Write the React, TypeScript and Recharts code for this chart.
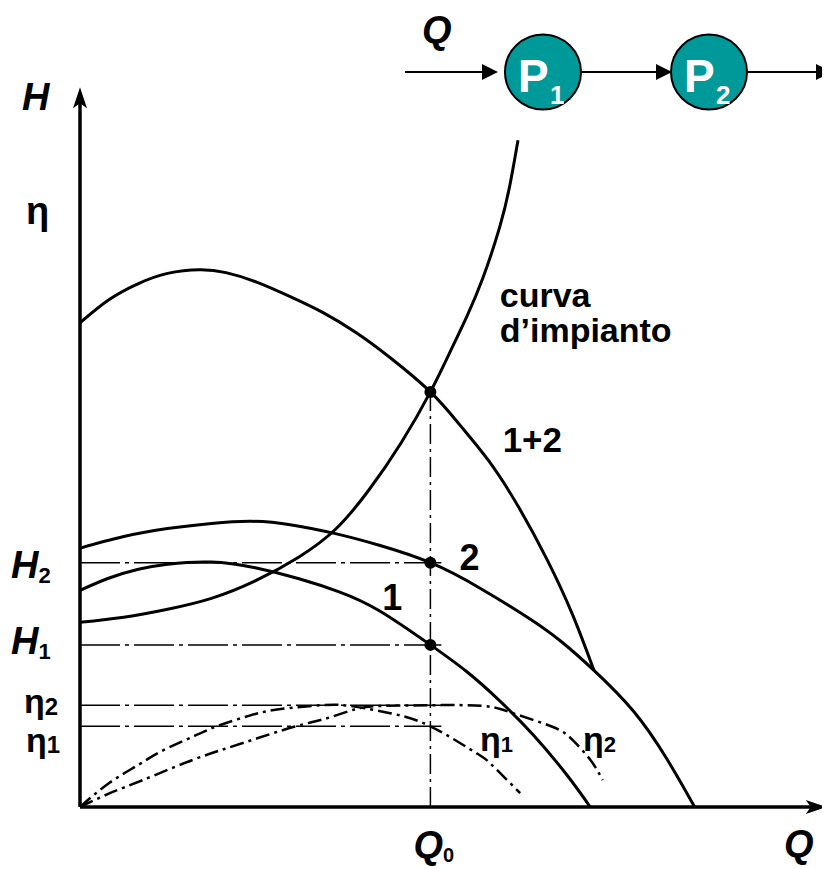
import { LineChart, Line, XAxis, YAxis, ReferenceLine, ReferenceDot } from 'recharts'

// operating point of the two pumps in series
const Q0 = 4.8
const H1 = 2.23
const H2 = 3.36
const H_SERIES = 5.71
const ETA1 = 1.11
const ETA2 = 1.4

// characteristic of pump 1
const pump1 = [
  { q: 0, h: 2.98 }, { q: 0.4, h: 3.15 }, { q: 0.8, h: 3.27 }, { q: 1.2, h: 3.34 },
  { q: 1.8, h: 3.37 }, { q: 2.4, h: 3.29 }, { q: 3.0, h: 3.14 }, { q: 3.55, h: 2.96 },
  { q: 4.1, h: 2.7 }, { q: 4.8, h: 2.23 }, { q: 5.3, h: 1.86 }, { q: 5.75, h: 1.46 },
  { q: 6.21, h: 0.99 }, { q: 6.67, h: 0.44 }, { q: 6.99, h: 0 },
]

// characteristic of pump 2
const pump2 = [
  { q: 0, h: 3.56 }, { q: 0.6, h: 3.72 }, { q: 1.2, h: 3.83 }, { q: 1.8, h: 3.9 },
  { q: 2.35, h: 3.93 }, { q: 2.9, h: 3.88 }, { q: 3.5, h: 3.76 }, { q: 4.1, h: 3.6 },
  { q: 4.8, h: 3.36 }, { q: 5.48, h: 3.01 }, { q: 6.16, h: 2.59 }, { q: 6.6, h: 2.27 },
  { q: 7.04, h: 1.88 }, { q: 7.58, h: 1.32 }, { q: 8.04, h: 0.66 }, { q: 8.42, h: 0 },
]

// series combination 1+2
const series12 = [
  { q: 0, h: 6.66 }, { q: 0.4, h: 6.98 }, { q: 0.8, h: 7.2 }, { q: 1.2, h: 7.34 },
  { q: 1.64, h: 7.39 }, { q: 2.0, h: 7.35 }, { q: 2.42, h: 7.22 }, { q: 2.88, h: 7.02 },
  { q: 3.33, h: 6.8 }, { q: 3.79, h: 6.52 }, { q: 4.25, h: 6.18 }, { q: 4.8, h: 5.71 },
  { q: 5.2, h: 5.26 }, { q: 5.6, h: 4.76 }, { q: 6.0, h: 4.14 }, { q: 6.4, h: 3.4 },
  { q: 6.75, h: 2.64 }, { q: 7.04, h: 1.88 },
]

// curva d'impianto
const plant = [
  { q: 0, h: 2.54 }, { q: 0.6, h: 2.61 }, { q: 1.2, h: 2.72 }, { q: 1.8, h: 2.87 },
  { q: 2.4, h: 3.11 }, { q: 3.0, h: 3.44 }, { q: 3.5, h: 3.82 }, { q: 3.95, h: 4.35 },
  { q: 4.4, h: 5.01 }, { q: 4.8, h: 5.71 }, { q: 5.07, h: 6.26 }, { q: 5.3, h: 6.75 },
  { q: 5.52, h: 7.28 }, { q: 5.75, h: 7.98 }, { q: 5.89, h: 8.56 }, { q: 6.0, h: 9.17 },
]

// efficiencies
const eta1 = [
  { q: 0, h: 0 }, { q: 0.4, h: 0.33 }, { q: 0.8, h: 0.58 }, { q: 1.1, h: 0.76 },
  { q: 1.55, h: 0.97 }, { q: 1.9, h: 1.12 }, { q: 2.3, h: 1.25 }, { q: 2.7, h: 1.34 },
  { q: 3.3, h: 1.4 }, { q: 3.7, h: 1.39 }, { q: 4.25, h: 1.29 }, { q: 4.8, h: 1.11 },
  { q: 5.4, h: 0.76 }, { q: 5.62, h: 0.6 }, { q: 6.03, h: 0.19 },
]

const eta2 = [
  { q: 0, h: 0 }, { q: 0.41, h: 0.19 }, { q: 0.86, h: 0.37 }, { q: 1.55, h: 0.65 },
  { q: 2.23, h: 0.88 }, { q: 2.92, h: 1.1 }, { q: 3.38, h: 1.22 }, { q: 3.79, h: 1.35 },
  { q: 4.15, h: 1.39 }, { q: 4.8, h: 1.4 }, { q: 5.52, h: 1.39 }, { q: 5.93, h: 1.29 },
  { q: 6.48, h: 1.1 }, { q: 6.75, h: 0.92 }, { q: 6.99, h: 0.65 }, { q: 7.16, h: 0.37 },
]

const FONT = "'Liberation Sans', Arial, Helvetica, sans-serif"
const TEAL = '#009999'

type DotProps = { cx?: number; cy?: number }

interface TagOpts {
  size?: number
  italic?: boolean
  sub?: string
  subSize?: number
  subDy?: number
}

const tag = (text: string, dx: number, dy: number, o: TagOpts = {}) =>
  (p: DotProps) => (
    <text
      x={(p.cx ?? 0) + dx}
      y={(p.cy ?? 0) + dy}
      fontFamily={FONT}
      fontWeight="bold"
      fontStyle={o.italic ? 'italic' : 'normal'}
      fontSize={o.size ?? 36}
      fill="#000"
    >
      {text}
      {o.sub && (
        <tspan fontSize={o.subSize ?? 22} dy={o.subDy ?? 5} fontStyle="normal">
          {o.sub}
        </tspan>
      )}
    </text>
  )

const arrowUp = (p: DotProps) => {
  const x = p.cx ?? 0
  const y = p.cy ?? 0
  return <polygon points={`${x},${y} ${x - 7},${y + 21} ${x},${y + 16} ${x + 7},${y + 21}`} fill="#000" />
}

const arrowRight = (p: DotProps) => {
  const x = p.cx ?? 0
  const y = p.cy ?? 0
  return <polygon points={`${x},${y} ${x - 21},${y - 7} ${x - 16},${y} ${x - 21},${y + 7}`} fill="#000" />
}

const curve = { type: 'natural' as const, dataKey: 'h', stroke: '#000', dot: false, activeDot: false, isAnimationActive: false }
const effDash = '14 5 3 5'
const refDash = '40 5 4 5'

function PumpDiagram() {
  return (
    <svg width={830} height={120} style={{ position: 'absolute', left: -8, top: -8 }} fontFamily={FONT}>
      <text x={422} y={43} fontSize={38} fontWeight="bold" fontStyle="italic">Q</text>
      <line x1={405} y1={72} x2={484} y2={72} stroke="#000" strokeWidth={2} />
      <polygon points="482,64 498,72 482,80" fill="#000" />
      <ellipse cx={543} cy={72} rx={38} ry={37.5} fill={TEAL} stroke="#000" strokeWidth={2} />
      <text x={518} y={92} fill="#fff" fontSize={46} fontWeight="bold">P</text>
      <text x={550} y={104} fill="#fff" fontSize={26} fontWeight="bold">1</text>
      <line x1={581} y1={72} x2={658} y2={72} stroke="#000" strokeWidth={2} />
      <polygon points="656,64 672,72 656,80" fill="#000" />
      <ellipse cx={709} cy={72} rx={38} ry={37.5} fill={TEAL} stroke="#000" strokeWidth={2} />
      <text x={684} y={92} fill="#fff" fontSize={46} fontWeight="bold">P</text>
      <text x={716} y={104} fill="#fff" fontSize={26} fontWeight="bold">2</text>
      <line x1={747} y1={72} x2={818} y2={72} stroke="#000" strokeWidth={2} />
      <polygon points="816,64 832,72 816,80" fill="#000" />
    </svg>
  )
}

export default function App() {
  return (
    <div style={{ position: 'relative', width: 822, height: 861 }}>
      <LineChart width={822} height={861} margin={{ top: 72, right: 20, bottom: 62, left: 72 }}>
        <XAxis type="number" dataKey="q" domain={[0, 10]} hide allowDataOverflow />
        <YAxis type="number" dataKey="h" domain={[0, 10]} hide allowDataOverflow />

        {/* axes with arrowheads */}
        <ReferenceLine segment={[{ x: 0, y: 0 }, { x: 10.1, y: 0 }]} stroke="#000" strokeWidth={3.5} ifOverflow="visible" />
        <ReferenceLine segment={[{ x: 0, y: 0 }, { x: 0, y: 9.75 }]} stroke="#000" strokeWidth={3.5} ifOverflow="visible" />
        <ReferenceDot x={10.23} y={0} ifOverflow="visible" shape={arrowRight} />
        <ReferenceDot x={0} y={9.9} ifOverflow="visible" shape={arrowUp} />

        {/* dash-dot construction lines */}
        <ReferenceLine segment={[{ x: 0, y: H2 }, { x: 4.95, y: H2 }]} stroke="#000" strokeWidth={1.5} strokeDasharray={refDash} />
        <ReferenceLine segment={[{ x: 0, y: H1 }, { x: 4.95, y: H1 }]} stroke="#000" strokeWidth={1.5} strokeDasharray={refDash} />
        <ReferenceLine segment={[{ x: 0, y: ETA2 }, { x: 4.95, y: ETA2 }]} stroke="#000" strokeWidth={1.5} strokeDasharray={refDash} />
        <ReferenceLine segment={[{ x: 0, y: ETA1 }, { x: 4.95, y: ETA1 }]} stroke="#000" strokeWidth={1.5} strokeDasharray={refDash} />
        <ReferenceLine segment={[{ x: Q0, y: 0 }, { x: Q0, y: H_SERIES }]} stroke="#000" strokeWidth={1.5} strokeDasharray="20 5 3 5" />

        <Line {...curve} data={pump1} strokeWidth={3} />
        <Line {...curve} data={pump2} strokeWidth={3} />
        <Line {...curve} data={series12} strokeWidth={3} />
        <Line {...curve} data={plant} strokeWidth={3} />
        <Line {...curve} data={eta1} strokeWidth={2.5} strokeDasharray={effDash} />
        <Line {...curve} data={eta2} strokeWidth={2.5} strokeDasharray={effDash} />

        <ReferenceDot x={Q0} y={H_SERIES} r={6} fill="#000" stroke="none" />
        <ReferenceDot x={Q0} y={H2} r={6} fill="#000" stroke="none" />
        <ReferenceDot x={Q0} y={H1} r={6} fill="#000" stroke="none" />

        {/* axis titles and left-hand labels */}
        <ReferenceDot x={0} y={10} ifOverflow="visible" shape={tag('H', -58, 30, { size: 38, italic: true })} />
        <ReferenceDot x={0} y={10} ifOverflow="visible" shape={tag('η', -54, 144, { size: 38 })} />
        <ReferenceDot x={0} y={H2} ifOverflow="visible" shape={tag('H', -69, 15, { size: 38, italic: true, sub: '2', subSize: 22, subDy: 5 })} />
        <ReferenceDot x={0} y={H1} ifOverflow="visible" shape={tag('H', -69, 9, { size: 38, italic: true, sub: '1', subSize: 22, subDy: 5 })} />
        <ReferenceDot x={0} y={ETA2} ifOverflow="visible" shape={tag('η', -56, 8, { size: 34, sub: '2', subSize: 24, subDy: 2 })} />
        <ReferenceDot x={0} y={ETA1} ifOverflow="visible" shape={tag('η', -54, 26, { size: 34, sub: '1', subSize: 24, subDy: 1 })} />
        <ReferenceDot x={Q0} y={0} ifOverflow="visible" shape={tag('Q', -17, 51, { size: 38, italic: true, sub: '0', subSize: 20, subDy: 4 })} />
        <ReferenceDot x={10} y={0} ifOverflow="visible" shape={tag('Q', -26, 50, { size: 38, italic: true })} />

        {/* curve labels */}
        <ReferenceDot x={5.75} y={6.88} ifOverflow="visible" shape={tag('curva', 0, 0, { size: 34 })} />
        <ReferenceDot x={5.75} y={6.4} ifOverflow="visible" shape={tag('d’impianto', 0, 0, { size: 34 })} />
        <ReferenceDot x={5.79} y={4.88} ifOverflow="visible" shape={tag('1+2', 0, 0, { size: 35 })} />
        <ReferenceDot x={5.2} y={3.26} ifOverflow="visible" shape={tag('2', 0, 0, { size: 36 })} />
        <ReferenceDot x={4.14} y={2.71} ifOverflow="visible" shape={tag('1', 0, 0, { size: 36 })} />
        <ReferenceDot x={5.48} y={0.77} ifOverflow="visible" shape={tag('η', 0, 0, { size: 34, sub: '1', subSize: 22, subDy: 1 })} />
        <ReferenceDot x={6.89} y={0.77} ifOverflow="visible" shape={tag('η', 0, 0, { size: 34, sub: '2', subSize: 22, subDy: 1 })} />
      </LineChart>
      <PumpDiagram />
    </div>
  )
}
